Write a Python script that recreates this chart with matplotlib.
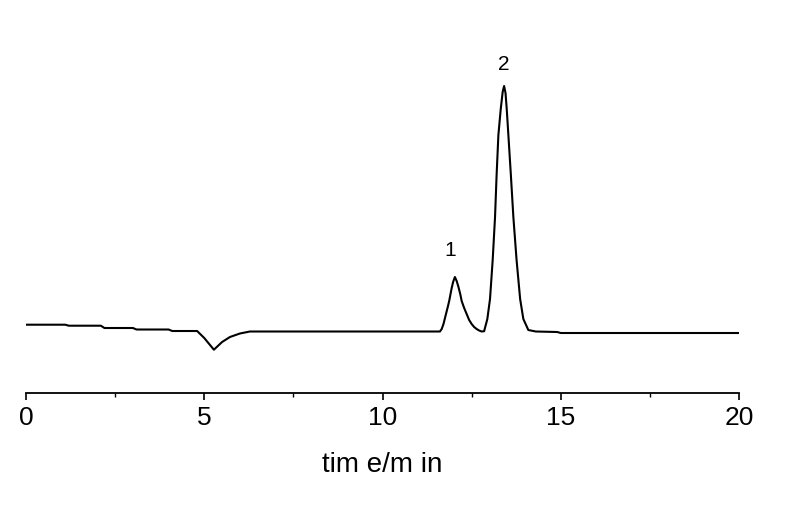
import matplotlib
matplotlib.use("Agg")
import matplotlib.pyplot as plt
from matplotlib.ticker import MultipleLocator

# chromatogram trace (time in min, signal in arbitrary units)
time_min = [0.0, 1.1, 1.2, 2.1, 2.2, 3.0, 3.1, 4.0, 4.1, 4.8, 5.0, 5.27, 5.5, 5.72,
            6.0, 6.28,
            11.61, 11.66, 11.71, 11.78, 11.83, 11.87, 11.94, 11.98, 12.03, 12.08,
            12.13, 12.18, 12.22, 12.29, 12.36, 12.43, 12.50, 12.57, 12.64, 12.71,
            12.78, 12.85,
            12.94, 13.015, 13.09, 13.156, 13.20, 13.25, 13.316, 13.37, 13.41, 13.45,
            13.484, 13.53, 13.60, 13.67, 13.76, 13.86, 13.95, 14.09, 14.3, 14.9,
            15.0, 20.0]
signal = [7.3, 7.3, 6.3, 6.3, 4.0, 4.0, 2.5, 2.5, 1.0, 1.0, -6.0, -17.7, -10.0, -5.0,
          -1.5, 0.5,
          0.5, 3.0, 8.0, 18.0, 25.0, 31.0, 44.0, 50.0, 55.0, 51.0,
          45.0, 38.0, 31.0, 24.0, 18.0, 12.0, 8.0, 5.0, 3.0, 1.5,
          0.5, 0.8,
          13.0, 33.0, 72.0, 115.0, 157.0, 197.0, 223.0, 240.0, 246.0, 239.0,
          223.0, 197.0, 157.0, 115.0, 72.0, 33.0, 13.0, 2.0, 0.5, 0.0,
          -1.0, -1.0]

peak_labels = ["1", "2"]
peak_pos = [(11.89, 82), (13.41, 267)]

plt.rcParams['font.family'] = ['Liberation Sans', 'DejaVu Sans']

fig = plt.figure(figsize=(8, 5.11), dpi=100)
ax = fig.add_axes([0.0325, 0.2309, 0.8913, 0.6517])

ax.plot(time_min, signal, color='black', lw=1.5)
for lab, (x, y) in zip(peak_labels, peak_pos):
    ax.text(x, y, lab, ha='center', va='center', fontsize=15)

ax.set_xlim(0, 20)
ax.set_ylim(-61, 272)
for s in ['top', 'left', 'right']:
    ax.spines[s].set_visible(False)
ax.spines['bottom'].set_linewidth(1.3)
ax.set_yticks([])
ax.xaxis.set_major_locator(MultipleLocator(5))
ax.xaxis.set_minor_locator(MultipleLocator(2.5))
ax.tick_params(axis='x', which='major', direction='out', length=5, width=1.2,
               labelsize=19, pad=4)
ax.tick_params(axis='x', which='minor', direction='out', length=3, width=1.0)
ax.set_xlabel('tim e/m in', fontsize=20, labelpad=16)

fig.savefig('out.png', dpi=100, facecolor='white')
